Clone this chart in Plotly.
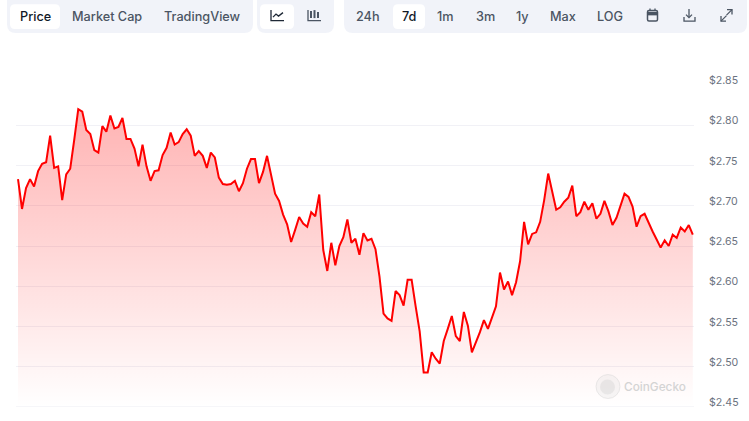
import plotly.graph_objects as go

W, H = 749, 421
L, R, T, B = 16, 694, 85, 407.5

prices = [
 2.733,2.696,2.722,2.733,2.724,2.743,2.752,2.754,2.787,2.747,
 2.749,2.707,2.739,2.746,2.782,2.820,2.817,2.794,2.789,2.769,
 2.766,2.799,2.792,2.812,2.796,2.798,2.809,2.783,2.783,2.771,
 2.749,2.776,2.749,2.731,2.743,2.744,2.763,2.772,2.791,2.776,
 2.779,2.789,2.795,2.787,2.762,2.768,2.762,2.747,2.766,2.760,
 2.735,2.727,2.726,2.727,2.731,2.718,2.728,2.746,2.758,2.758,
 2.728,2.742,2.762,2.738,2.715,2.706,2.689,2.677,2.655,2.670,
 2.686,2.678,2.674,2.692,2.687,2.714,2.645,2.619,2.654,2.626,
 2.650,2.661,2.683,2.654,2.659,2.639,2.666,2.657,2.659,2.646,
 2.612,2.566,2.560,2.557,2.594,2.589,2.576,2.608,2.608,2.575,
 2.544,2.493,2.493,2.518,2.510,2.504,2.532,2.547,2.563,2.538,
 2.532,2.568,2.551,2.518,2.530,2.543,2.558,2.547,2.561,2.575,
 2.617,2.596,2.606,2.589,2.605,2.631,2.680,2.652,2.665,2.667,
 2.680,2.707,2.740,2.719,2.695,2.698,2.705,2.710,2.725,2.687,
 2.692,2.705,2.695,2.703,2.684,2.690,2.706,2.693,2.676,2.685,
 2.700,2.715,2.711,2.699,2.674,2.687,2.690,2.678,2.668,2.658,
 2.648,2.657,2.650,2.664,2.660,2.673,2.668,2.676,2.664,
]
hours = list(range(len(prices)))
tick_values = [2.45, 2.50, 2.55, 2.60, 2.65, 2.70, 2.75, 2.80, 2.85]
tick_labels = ["$2.45", "$2.50", "$2.55", "$2.60", "$2.65", "$2.70", "$2.75", "$2.80", "$2.85"]
tabs_left = ["Price", "Market Cap", "TradingView"]
tabs_range = ["24h", "7d", "1m", "3m", "1y", "Max", "LOG"]

FONT = "Inter, 'Noto Sans', sans-serif"
GROUP = "#f1f3f9"
TEXT = "#4b5563"
ACTIVE = "#111827"


def px(x):
    return (x - L) / (R - L)


def py(y):
    return (B - y) / (B - T)


def rrect(x0, y0, x1, y1, r, fill):
    p = (f"M {px(x0+r)} {py(y0)} L {px(x1-r)} {py(y0)} Q {px(x1)} {py(y0)} {px(x1)} {py(y0+r)} "
         f"L {px(x1)} {py(y1-r)} Q {px(x1)} {py(y1)} {px(x1-r)} {py(y1)} L {px(x0+r)} {py(y1)} "
         f"Q {px(x0)} {py(y1)} {px(x0)} {py(y1-r)} L {px(x0)} {py(y0+r)} Q {px(x0)} {py(y0)} {px(x0+r)} {py(y0)} Z")
    return dict(type="path", path=p, xref="paper", yref="paper", fillcolor=fill,
                line=dict(width=0), layer="above")


def poly(points, color=TEXT, width=1.3, closed=False, fill=None):
    p = "M " + " L ".join(f"{px(a)} {py(b)}" for a, b in points) + (" Z" if closed else "")
    return dict(type="path", path=p, xref="paper", yref="paper", layer="above",
                fillcolor=fill if fill else "rgba(0,0,0,0)",
                line=dict(color=color, width=width))


fig = go.Figure(go.Scatter(
    x=hours, y=prices, mode="lines",
    line=dict(color="#ff0000", width=2, shape="linear"),
    fill="tozeroy",
    fillgradient=dict(type="vertical", start=2.82, stop=2.45,
                      colorscale=[[0, "rgba(255,0,0,0.30)"], [1, "rgba(255,0,0,0.0)"]]),
    hoverinfo="skip",
))

shapes = [
    rrect(7, -8, 253, 33, 9, GROUP),
    rrect(257, -8, 334, 33, 9, GROUP),
    rrect(344, -8, 747, 33, 9, GROUP),
    rrect(10, 4, 60, 29, 5, "#ffffff"),
    rrect(260, 4, 294, 29, 5, "#ffffff"),
    rrect(393, 4, 425, 29, 5, "#ffffff"),
    # bottom gridline, which the plot edge would otherwise clip
    dict(type="line", xref="paper", yref="y", x0=0, x1=1, y0=tick_values[0], y1=tick_values[0],
         line=dict(color="#ececf2", width=1), layer="above"),
    # line chart icon
    poly([(271, 10), (271, 20.5), (284, 20.5)], color="#1f2937"),
    poly([(273, 17), (276, 14), (278.5, 16), (283, 12.5)], color="#1f2937"),
    # candlestick icon
    poly([(308, 10), (308, 20.5), (321, 20.5)]),
    poly([(311, 11), (311, 18)], width=2),
    poly([(314.5, 10), (314.5, 18)], width=2),
    poly([(318, 12), (318, 18)], width=2),
    # calendar icon
    rrect(647.5, 10.5, 657.5, 21, 1.5, "rgba(0,0,0,0)") | dict(line=dict(color=TEXT, width=1.5)),
    poly([(647.5, 13.5), (657.5, 13.5)], width=3.5),
    poly([(650, 8.5), (650, 10.5)], width=1.3),
    poly([(655, 8.5), (655, 10.5)], width=1.3),
    # download icon
    poly([(689, 9), (689, 17)]),
    poly([(686, 14.5), (689, 17.5), (692, 14.5)]),
    poly([(684, 17), (684, 21), (695, 21), (695, 17)]),
    # expand icon
    poly([(727, 9.5), (732, 9.5), (732, 14.5)]),
    poly([(726.5, 15), (732, 9.5)]),
    poly([(721, 16), (721, 21), (726, 21)]),
    poly([(721, 21), (726.5, 15.5)]),
    # watermark logo
    dict(type="circle", xref="paper", yref="paper", layer="above",
         x0=px(596), x1=px(620), y0=py(399), y1=py(375),
         fillcolor="rgba(225,225,225,0.30)", line=dict(color="rgba(215,215,215,0.5)", width=1)),
    dict(type="circle", xref="paper", yref="paper", layer="above",
         x0=px(600), x1=px(615), y0=py(395), y1=py(380),
         fillcolor="rgba(205,205,205,0.35)", line=dict(width=0)),
]

annotations = []


def label(x, y, text, color=TEXT, size=12.7, weight=500):
    annotations.append(dict(x=px(x), y=py(y), xref="paper", yref="paper", text=text,
                            showarrow=False, xanchor="center", yanchor="middle",
                            font=dict(family=FONT, size=size, color=color, weight=weight)))


for name, cx in zip(tabs_left, [35, 107, 202]):
    label(cx, 16, name, ACTIVE if name == "Price" else TEXT)
for name, cx in zip(tabs_range, [368, 408.5, 445, 485, 522, 563, 610]):
    label(cx, 16, name, ACTIVE if name == "7d" else TEXT)
label(655, 387, "CoinGecko", color="#d4d4d4", size=11.8, weight=500)

# The reference prints each price label a few pixels above its gridline.
for value, text in zip(tick_values, tick_labels):
    annotations.append(dict(x=px(708), y=value, xref="paper", yref="y", text=text,
                            showarrow=False, xanchor="left", yanchor="middle", xshift=-1,
                            yshift=4.5, font=dict(family=FONT, size=10.6, color="#6b7280")))

fig.update_layout(
    width=W, height=H, margin=dict(l=L, r=W - R, t=T, b=H - B, autoexpand=False),
    paper_bgcolor="#ffffff", plot_bgcolor="#ffffff", showlegend=False,
    font=dict(family=FONT),
    shapes=shapes, annotations=annotations,
    xaxis=dict(range=[-0.5, 168.3], visible=False, fixedrange=True),
    yaxis=dict(range=[2.45, 2.85], side="right", tickvals=tick_values, showticklabels=False,
               showgrid=True, gridcolor="#f1f1f6", gridwidth=1, zeroline=False, showline=False,
               ticks="", fixedrange=True),
)

fig.write_html("out.html", config=dict(displayModeBar=False),
               post_script="document.body.style.margin='0';")
